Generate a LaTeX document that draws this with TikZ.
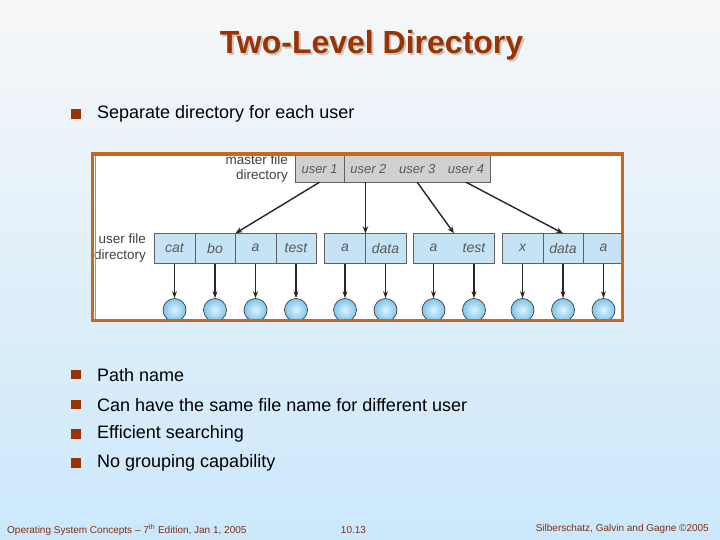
\documentclass[tikz,border=0pt]{standalone}
\usepackage{fontspec}
\setmainfont{Liberation Sans}
\usetikzlibrary{arrows.meta}

\definecolor{titlered}{RGB}{153,51,0}
\definecolor{framebrown}{RGB}{198,104,32}
\definecolor{bgtop}{RGB}{246,247,248}
\definecolor{bgbottom}{RGB}{203,232,251}
\definecolor{cellblue}{RGB}{198,226,245}
\definecolor{cellgray}{RGB}{208,208,208}
\definecolor{footred}{RGB}{128,48,16}
\definecolor{ballin}{RGB}{222,243,253}
\definecolor{ballout}{RGB}{125,196,235}

\tikzset{
  bullettext/.style={anchor=west, inner sep=0pt, font=\fontsize{18}{21}\selectfont},
  bulletbox/.style={fill=titlered, minimum size=9.5pt, inner sep=0pt},
  dirlabel/.style={align=right, inner sep=0pt, text=black!75, font=\fontsize{13.5}{15.5}\selectfont},
  usercell/.style={fill=cellgray, inner sep=0pt, minimum width=48.8pt, minimum height=26pt,
    text=black!65, font=\fontsize{13}{15}\selectfont\itshape},
  filecell/.style={fill=cellblue, inner sep=0pt, minimum width=40.5pt, minimum height=29.2pt,
    text=black!65, font=\fontsize{14}{16}\selectfont\itshape},
  boxline/.style={draw=gray!75!black, line width=0.6pt},
  ball/.style={circle, minimum size=23pt, inner sep=0pt, draw=gray!50!black, line width=0.7pt,
    inner color=ballin, outer color=ballout},
  toplink/.style={-{Stealth[length=7pt,width=5.5pt]}, line width=1.4pt, black!85},
  downlink/.style={-{Stealth[length=7pt,width=5pt]}, line width=1.2pt, black!85},
  foottext/.style={inner sep=0pt, text=footred, font=\fontsize{10}{12}\selectfont}
}

\begin{document}
\begin{tikzpicture}[x=1pt,y=-1pt]
    \useasboundingbox (0,0) rectangle (720,540);
    \shade[top color=bgtop, bottom color=bgbottom] (0,0) rectangle (720,540);

    \node[text=gray!45, font=\fontsize{32}{36}\selectfont\bfseries] at (373.5,47) {Two-Level Directory};
    \node[text=titlered, font=\fontsize{32}{36}\selectfont\bfseries] (title) at (371.5,45) {Two-Level Directory};

    \node[bulletbox] (b1) at (76,114) {};
    \node[bullettext] (t1) at (97,114) {Separate directory for each user};

    \fill[white] (91,152) rectangle (623,322);

    \node[dirlabel, anchor=east] (mlabel) at (288,168.5) {master file\\directory};
    \node[usercell] (user1) at (319.6,169) {user 1};
    \node[usercell] (user2) at (368.4,169) {user 2};
    \node[usercell] (user3) at (417.2,169) {user 3};
    \node[usercell] (user4) at (466,169) {user 4};
    \draw[boxline] (user1.north west) rectangle (user4.south east);
    \draw[boxline] (user1.north east) -- (user1.south east);

    \node[dirlabel, anchor=east] (ulabel) at (146,248) {user file\\directory};
    \foreach \i/\x/\txt in {1/174.5/cat, 2/215/bo, 3/255.5/a, 4/296/test, 5/345/a, 6/385.5/data,
        7/433.5/a, 8/474/test, 9/522.5/x, 10/563/data, 11/603.5/a}
    {
        \node[filecell] (f\i) at (\x,248.1) {\txt};
        \node[ball] (c\i) at (\x,310) {};
        \draw[downlink] (f\i.south) -- (c\i.north);
    }
    \draw[boxline] (f1.north west) rectangle (f4.south east);
    \draw[boxline] (f5.north west) rectangle (f6.south east);
    \draw[boxline] (f7.north west) rectangle (f8.south east);
    \draw[boxline] (f9.north west) rectangle ([xshift=-3pt]f11.south east);
    \foreach \i in {1,2,3,5,9,10}
        \draw[boxline] (f\i.north east) -- (f\i.south east);

    \draw[toplink] (user1.south) -- (f2.north east);
    \draw[toplink] (user2.south -| f5.north east) -- (f5.north east);
    \draw[toplink] (user3.south) -- (f7.north east);
    \draw[toplink] (user4.south) -- (f10.north);

    \draw[framebrown, line width=3.2pt] (92.6,154.1) rectangle (622.2,320.4);
    \draw[framebrown!80, line width=0.6pt] (95.6,155.7) -- (95.6,318.8);

    \node[bulletbox] (b2) at (76,374.7) {};
    \node[bullettext] (t2) at (97,374.7) {Path name};
    \node[bulletbox] (b3) at (76,404.6) {};
    \node[bullettext] (t3) at (97,404.6) {Can have the same file name for different user};
    \node[bulletbox] (b4) at (76,433.9) {};
    \node[bullettext] (t4) at (97,433.9) {Efficient searching};
    \node[bulletbox] (b5) at (76,463) {};
    \node[bullettext] (t5) at (97,463) {No grouping capability};

    \node[foottext, anchor=west] (foot1) at (7,530) {Operating System Concepts -- 7\textsuperscript{th} Edition, Jan 1, 2005};
    \node[foottext] (foot2) at (353.5,530) {10.13};
    \node[foottext, anchor=east] (foot3) at (709,528.5) {Silberschatz, Galvin and Gagne \textcopyright 2005};
\end{tikzpicture}
\end{document}
